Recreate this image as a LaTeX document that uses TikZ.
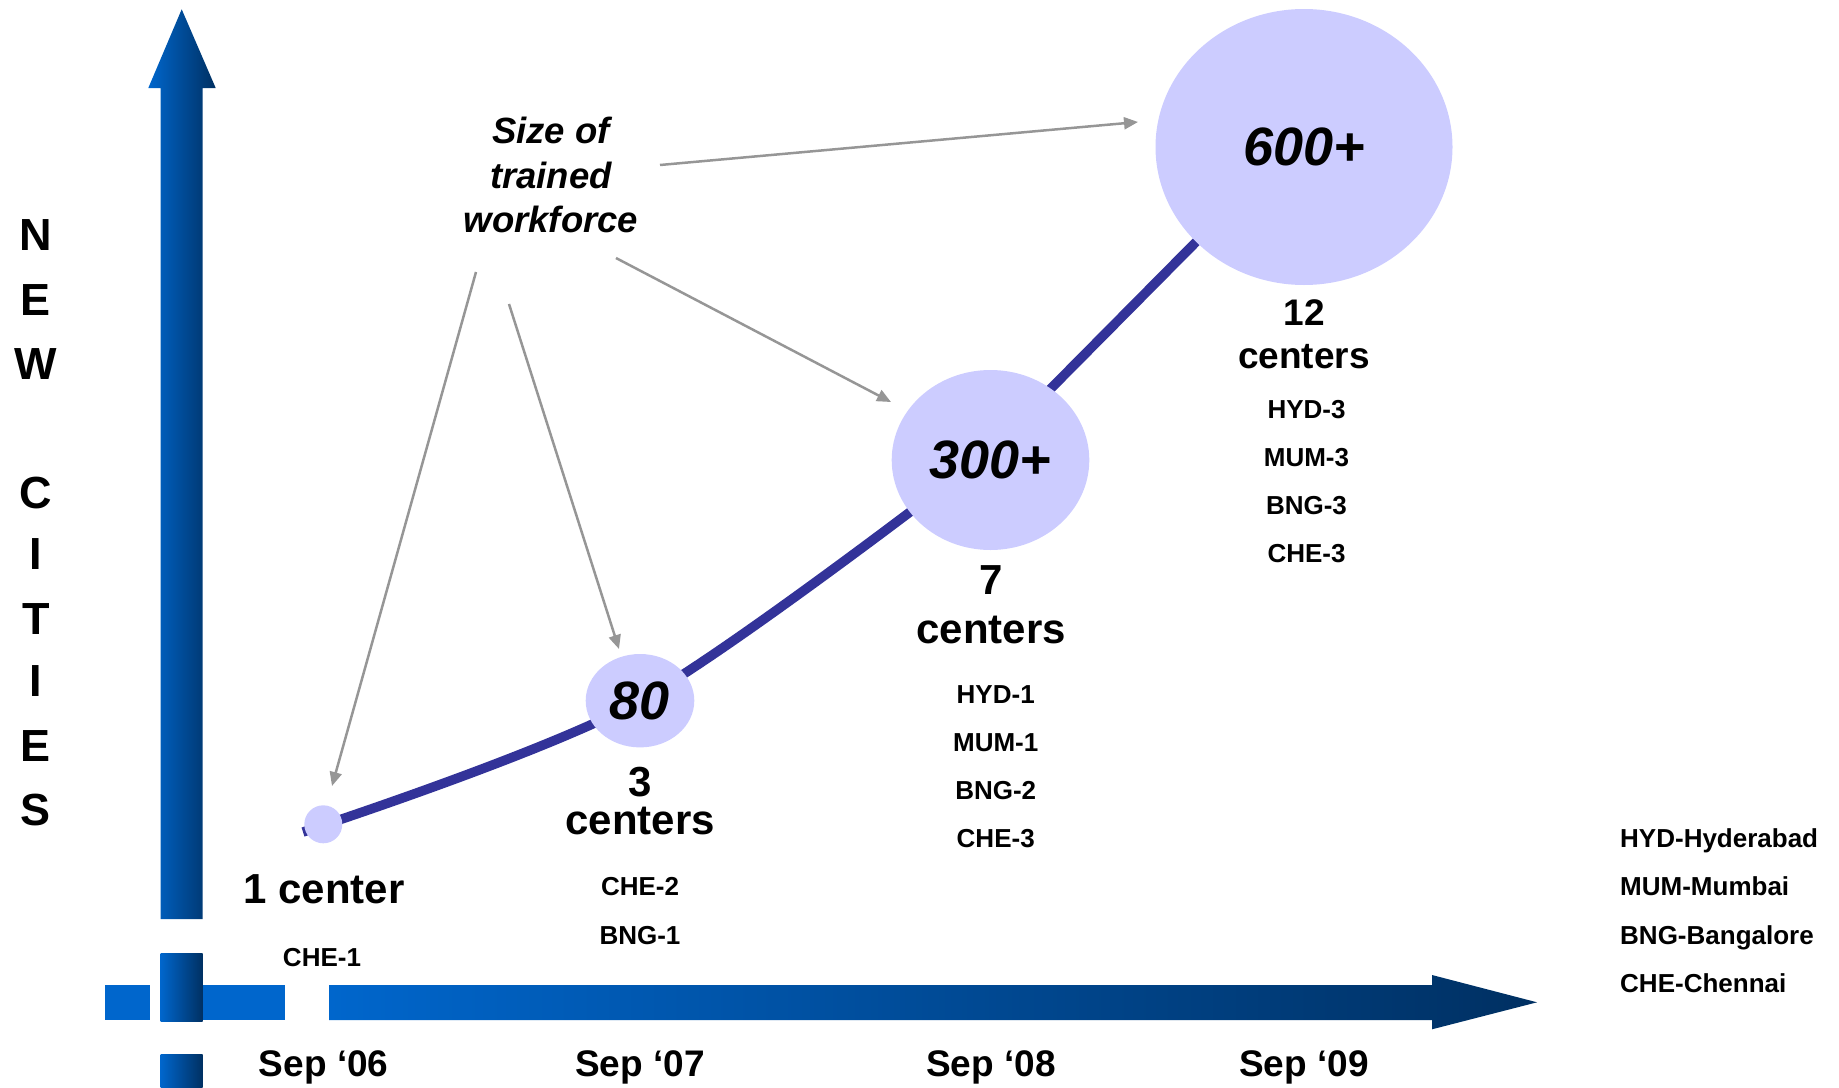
\documentclass[tikz,border=0pt]{standalone}
\usepackage{fontspec}
\setmainfont{Liberation Sans}
\usetikzlibrary{arrows.meta,shapes.geometric}

\definecolor{axisblue}{RGB}{0,102,204}
\definecolor{axisnavy}{RGB}{0,48,98}
\definecolor{bubblefill}{RGB}{204,204,255}
\definecolor{trendline}{RGB}{51,51,153}
\definecolor{pointergray}{RGB}{150,150,150}

\newcommand{\setfs}[1]{\fontsize{#1}{#1}\selectfont}

\begin{document}
\begin{tikzpicture}[x=1pt,y=-1pt,
  axisshade/.style={left color=axisblue,right color=axisnavy},
  bubble/.style={ellipse,fill=bubblefill,inner sep=0pt,
    font=\bfseries\itshape\setfs{54}},
  dot/.style={circle,fill=bubblefill,inner sep=0pt,minimum size=38},
  count/.style={inner sep=0pt,font=\bfseries\setfs{42},text height=30pt,text depth=0pt},
  countsmall/.style={inner sep=0pt,font=\bfseries\setfs{37},text height=26.5pt,text depth=0pt},
  code/.style={inner sep=0pt,font=\bfseries\setfs{26},text height=18.6pt,text depth=0pt},
  legend/.style={code,anchor=west},
  date/.style={inner sep=0pt,font=\bfseries\setfs{37},text height=26.5pt,text depth=0pt},
  axisletter/.style={inner sep=0pt,font=\bfseries\setfs{45},text height=32pt,text depth=0pt},
  note/.style={inner sep=0pt,align=center,font=\bfseries\itshape\setfs{36.5},
    execute at begin node=\setlength{\baselineskip}{44.6pt}},
  pointer/.style={draw=pointergray,line width=2.5pt,
    -{Triangle[length=14pt,width=12pt]}},
]
\useasboundingbox (0,0) rectangle (1839,1087);

% vertical axis: arrow and the broken stub below the crossing
\shade[axisshade] (160.7,919) -- (160.7,88) -- (148.3,88) -- (181.7,9.3)
  -- (215.7,88) -- (202.7,88) -- (202.7,919) -- cycle;
\shade[axisshade] (160.5,953) rectangle (202.7,1021);
\shade[axisshade] (160.5,1054) rectangle (202.7,1087);

% horizontal axis: short pieces and the time arrow
\fill[axisblue] (105,985) rectangle (150,1020);
\fill[axisblue] (202.7,985) rectangle (285,1020);
\shade[axisshade] (329,985) -- (1432,985) -- (1432,975) -- (1537,1002.3)
  -- (1432,1029.3) -- (1432,1020) -- (329,1020) -- cycle;

% vertical axis title
\foreach \ch/\yy [count=\i] in {N/234.6,E/299.1,W/363.6,C/492.6,I/553.6,T/618.1,I/680.2,E/745.9,S/809.2}
  \node[axisletter] (title\i) at (36,\yy) {\ch};

% growth curve: smooth rise through the first bubbles, then straight on
\coordinate (tail) at (303,832);
\coordinate (c1) at (323.3,824.3);
\coordinate (c2) at (640,700.7);
\coordinate (c3) at (990.5,460);
\coordinate (c4) at (1304,147);
\coordinate (bend) at (985,455);
\coordinate (head) at (1300,137);
\draw[trendline,line width=9.5pt] plot[smooth,tension=0.5] coordinates {(tail) (c2) (bend)} -- (head);

% workforce bubbles
\node[dot] (b1) at (c1) {};
\node[bubble,minimum width=108.6,minimum height=93.4] (b2) at (c2) {80};
\node[bubble,minimum width=197.6,minimum height=180] (b3) at (c3) {300+};
\node[bubble,minimum width=297,minimum height=276] (b4) at (c4) {600+};

% centre counts
\node[count] (n1) at (324,888) {1 center};
\node[count] (n2a) at (640,781) {3};
\node[count] (n2b) at (640,819) {centers};
\node[count] (n3a) at (991,579) {7};
\node[count] (n3b) at (991,628) {centers};
\node[countsmall] (n4a) at (1304,312) {12};
\node[countsmall] (n4b) at (1304,355) {centers};

% centre codes
\node[code] (k1) at (322,957) {CHE-1};
\node[code] (k2a) at (640,886.6) {CHE-2};
\node[code] (k2b) at (640,934.7) {BNG-1};
\node[code] (k3a) at (995.7,694) {HYD-1};
\node[code] (k3b) at (995.7,742) {MUM-1};
\node[code] (k3c) at (995.7,790.5) {BNG-2};
\node[code] (k3d) at (995.7,838.5) {CHE-3};
\node[code] (k4a) at (1306.5,409) {HYD-3};
\node[code] (k4b) at (1306.5,457) {MUM-3};
\node[code] (k4c) at (1306.5,505.5) {BNG-3};
\node[code] (k4d) at (1306.5,553.5) {CHE-3};

% dates
\node[date] (d1) at (323.7,1063.7) {Sep ‘06};
\node[date] (d2) at (640,1063.7) {Sep ‘07};
\node[date] (d3) at (991,1063.7) {Sep ‘08};
\node[date] (d4) at (1304,1063.7) {Sep ‘09};

% legend
\node[legend] (g1) at (1620,838.5) {HYD-Hyderabad};
\node[legend] (g2) at (1620,886.6) {MUM-Mumbai};
\node[legend] (g3) at (1620,934.7) {BNG-Bangalore};
\node[legend] (g4) at (1620,982.8) {CHE-Chennai};

% annotation and its pointers
\node[note] (size) at (551,175) {Size of\\trained\\workforce};
\coordinate (s1) at (660,165);
\coordinate (e1) at (1138,122);
\coordinate (s2) at (616,258);
\coordinate (e2) at (891,402);
\coordinate (s3) at (509,304);
\coordinate (e3) at (619,649);
\coordinate (s4) at (476,272);
\coordinate (e4) at (332,786);
\draw[pointer] (s1) -- (e1);
\draw[pointer] (s2) -- (e2);
\draw[pointer] (s3) -- (e3);
\draw[pointer] (s4) -- (e4);
\end{tikzpicture}
\end{document}
